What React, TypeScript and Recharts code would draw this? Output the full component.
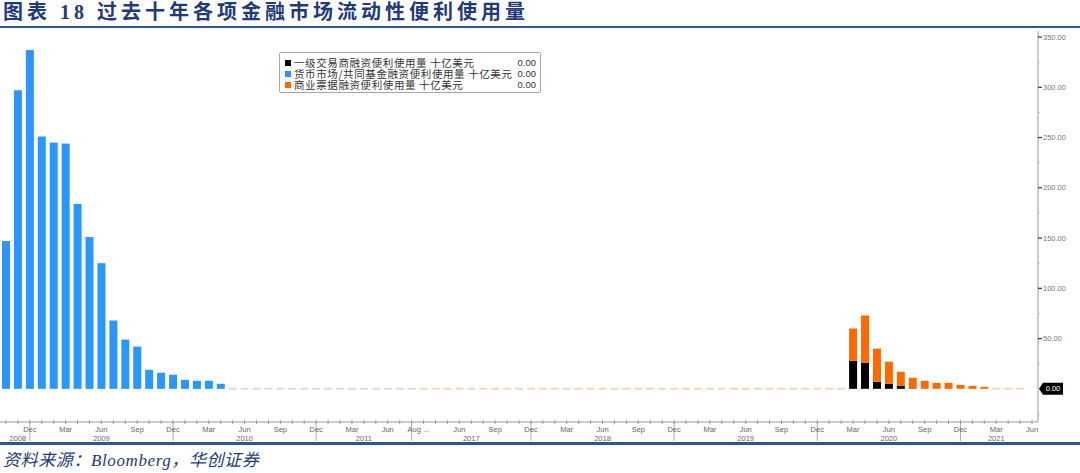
import { BarChart, Bar, XAxis, YAxis } from 'recharts'

const MONTH_NAMES = ['Jan', 'Feb', 'Mar', 'Apr', 'May', 'Jun', 'Jul', 'Aug', 'Sep', 'Oct', 'Nov', 'Dec']

// month keys of the two visible periods (axis is broken after Aug 2011)
function monthKeys(y0: number, m0: number, y1: number, m1: number) {
  const out: string[] = []
  let y = y0
  let m = m0
  while (y < y1 || (y === y1 && m <= m1)) {
    out.push(`${y}-${String(m).padStart(2, '0')}`)
    m++
    if (m > 12) { m = 1; y++ }
  }
  return out
}
const firstPeriod = monthKeys(2008, 10, 2011, 8)
const secondPeriod = monthKeys(2017, 3, 2021, 6)
const months = [...firstPeriod, ...secondPeriod]

// 货币市场/共同基金融资便利 (Oct 2008 – Aug 2011), 十亿美元
const mmlf = [
  147, 297, 337, 251, 245, 244, 184, 151, 125, 68, 49, 42, 19, 16, 14, 9, 8, 8, 5,
  0, 0, 0, 0, 0, 0, 0, 0, 0, 0, 0, 0, 0, 0, 0, 0,
]
// 一级交易商融资便利 (Mar 2020 – Feb 2021)
const pdcf = [28, 26, 7, 5, 3, 0.5, 0, 0, 0, 0, 0, 0]
// 商业票据融资便利 (Mar 2017 – May 2021)
const cpff = [
  0, 0, 0, 0, 0, 0, 0, 0, 0, 0, 0, 0, 0, 0, 0, 0, 0, 0,
  0, 0, 0, 0, 0, 0, 0, 0, 0, 0, 0, 0, 0, 0, 0, 0, 0, 0,
  32, 47, 33, 22, 14, 10.5, 8, 6, 6, 4, 3, 2,
  0, 0, 0,
]
const pdcfStart = '2020-03'

const yTicks = [-25, 0, 25, 50, 75, 100, 125, 150, 175, 200, 225, 250, 275, 300, 325, 350]
const monthLabels = ['Dec', 'Mar', 'Jun', 'Sep']
const breakKey = '2011-08'
const afterBreakKey = '2017-03'
const yearLabelAt: Record<string, string> = {
  '2008-11': '2008', '2009-06': '2009', '2010-06': '2010', '2011-04': '2011',
  '2017-07': '2017', '2018-06': '2018', '2019-06': '2019', '2020-06': '2020', '2021-03': '2021',
}

const legendRows = [
  { name: '一级交易商融资便利使用量 十亿美元', color: '#000000', last: '0.00' },
  { name: '货币市场/共同基金融资便利使用量 十亿美元', color: '#2997ff', last: '0.00' },
  { name: '商业票据融资便利使用量 十亿美元', color: '#ff6a00', last: '0.00' },
]

const data = months.map((key, i) => {
  const j = i - firstPeriod.length
  const p = months.indexOf(pdcfStart)
  return {
    key,
    mmlf: i < firstPeriod.length ? mmlf[i] : null,
    pdcf: i >= p && i - p < pdcf.length ? pdcf[i - p] : null,
    cpff: j >= 0 && j < cpff.length ? cpff[j] : null,
  }
})

const navy = '#1f3b7a'
const axisFont = '"Liberation Sans", Arial, sans-serif'

function barShape(dataKey: string, color: string, dashColor: string | null) {
  return (props: any) => {
    const { x, y, width, height, payload } = props
    if (dashColor && payload && payload[dataKey] === 0) {
      return <rect x={x} y={y - 1} width={width} height={1.8} fill={dashColor} />
    }
    if (!height || height <= 0 || isNaN(height)) return <g />
    return <rect x={x} y={y} width={width} height={height} fill={color} />
  }
}

function XTick(props: any) {
  const { x, y, payload } = props
  const key: string = payload.value
  const m = Number(key.slice(5, 7))
  const name = MONTH_NAMES[m - 1]
  const isBreak = key === breakKey
  const fs = 7.5
  return (
    <g>
      <line x1={x} x2={x} y1={y - 2} y2={y + 2} stroke="#8a8a8a" strokeWidth={0.8} />
      {(m === 12 || isBreak) && <line x1={x} x2={x} y1={y} y2={y + 19} stroke="#9a9a9a" strokeWidth={0.8} />}
      {monthLabels.includes(name) && key !== afterBreakKey && (
        <text x={x} y={y + 10} fontSize={fs} fill="#666" textAnchor="middle" fontFamily={axisFont}>{name}</text>
      )}
      {isBreak && (
        <text x={x - 4} y={y + 10} fontSize={fs} fill="#666" textAnchor="start" fontFamily={axisFont}>Aug ...</text>
      )}
      {yearLabelAt[key] && (
        <text x={x} y={y + 19} fontSize={fs} fill="#666" textAnchor="middle" fontFamily={axisFont}>{yearLabelAt[key]}</text>
      )}
    </g>
  )
}

function YTick(props: any) {
  const { x, y, payload } = props
  const v: number = payload.value
  if (v === 0) {
    return (
      <g>
        <path d={`M${x + 1},${y} L${x + 5},${y - 6} L${x + 25},${y - 6} L${x + 25},${y + 6} L${x + 5},${y + 6} Z`} fill="#000" />
        <text x={x + 15} y={y + 2.5} fontSize={7.5} fill="#fff" textAnchor="middle" fontFamily={axisFont}>0.00</text>
      </g>
    )
  }
  if (v > 0 && v % 50 === 0) {
    return (
      <g>
        <line x1={x} x2={x + 4} y1={y} y2={y} stroke="#333" strokeWidth={1.2} />
        <text x={x + 5} y={y + 2.5} fontSize={7.5} fill="#777" fontFamily={axisFont}>{v.toFixed(2)}</text>
      </g>
    )
  }
  return <line x1={x} x2={x + 2} y1={y} y2={y} stroke="#bbb" strokeWidth={0.8} />
}

export default function App() {
  return (
    <div style={{ position: 'absolute', left: 0, top: 0, width: 1080, height: 473, background: '#fff', overflow: 'hidden' }}>
      <div style={{
        position: 'absolute', left: 3, top: 0, lineHeight: '24px', fontSize: 20, fontWeight: 'bold', color: navy,
        letterSpacing: 4, fontFamily: '"Liberation Serif", "Noto Sans CJK SC", serif', whiteSpace: 'nowrap',
      }}>
        图表 18 过去十年各项金融市场流动性便利使用量
      </div>
      <div style={{ position: 'absolute', left: 0, top: 26, width: 1080, height: 2, background: '#2e5596' }} />

      <div style={{ position: 'absolute', left: 0, top: 0 }}>
        <BarChart width={1080} height={473} data={data} margin={{ top: 31, right: 0, bottom: 29, left: 0 }} barSize={8}>
          <XAxis
            dataKey="key"
            interval={0}
            height={22}
            tickSize={0}
            tickMargin={0}
            tickLine={false}
            axisLine={{ stroke: '#9a9a9a' }}
            tick={<XTick />}
          />
          <YAxis
            orientation="right"
            width={42}
            domain={[-33, 356]}
            allowDataOverflow
            ticks={yTicks}
            interval={0}
            tickSize={0}
            tickMargin={0}
            tickLine={false}
            axisLine={{ stroke: '#9a9a9a' }}
            tick={<YTick />}
          />
          <Bar dataKey="mmlf" stackId="a" fill="#2997ff" isAnimationActive={false} shape={barShape('mmlf', '#2997ff', '#c9dcec')} />
          <Bar dataKey="pdcf" stackId="a" fill="#000000" isAnimationActive={false} shape={barShape('pdcf', '#000000', null)} />
          <Bar dataKey="cpff" stackId="a" fill="#ff6a00" isAnimationActive={false} shape={barShape('cpff', '#ff6a00', '#f7d2b4')} />
        </BarChart>
      </div>

      <div style={{
        position: 'absolute', left: 279, top: 52, width: 262, height: 41, boxSizing: 'border-box',
        border: '1px solid #a8a8a8', borderRadius: 2, background: '#fff', padding: '4px 4px 0 5px',
        fontFamily: '"Noto Sans CJK SC", sans-serif', fontSize: 10.5, color: '#333',
      }}>
        {legendRows.map(r => (
          <div key={r.name} style={{ display: 'flex', alignItems: 'center', height: 11, lineHeight: '11px', whiteSpace: 'nowrap' }}>
            <span style={{ width: 6, height: 6, background: r.color, marginRight: 3, flex: 'none' }} />
            <span style={{ flex: 1, letterSpacing: 0.6 }}>{r.name}</span>
            <span style={{ fontFamily: axisFont, fontSize: 9.5 }}>{r.last}</span>
          </div>
        ))}
      </div>

      <div style={{ position: 'absolute', left: 0, top: 442, width: 1080, height: 2.5, background: '#2e5596' }} />
      <div style={{
        position: 'absolute', left: 3, top: 450, lineHeight: '22px', fontSize: 17, fontStyle: 'italic', color: navy,
        letterSpacing: 0.6, fontFamily: '"Liberation Serif", "Noto Sans CJK SC", serif', whiteSpace: 'nowrap',
      }}>
        资料来源：Bloomberg，华创证券
      </div>
    </div>
  )
}
